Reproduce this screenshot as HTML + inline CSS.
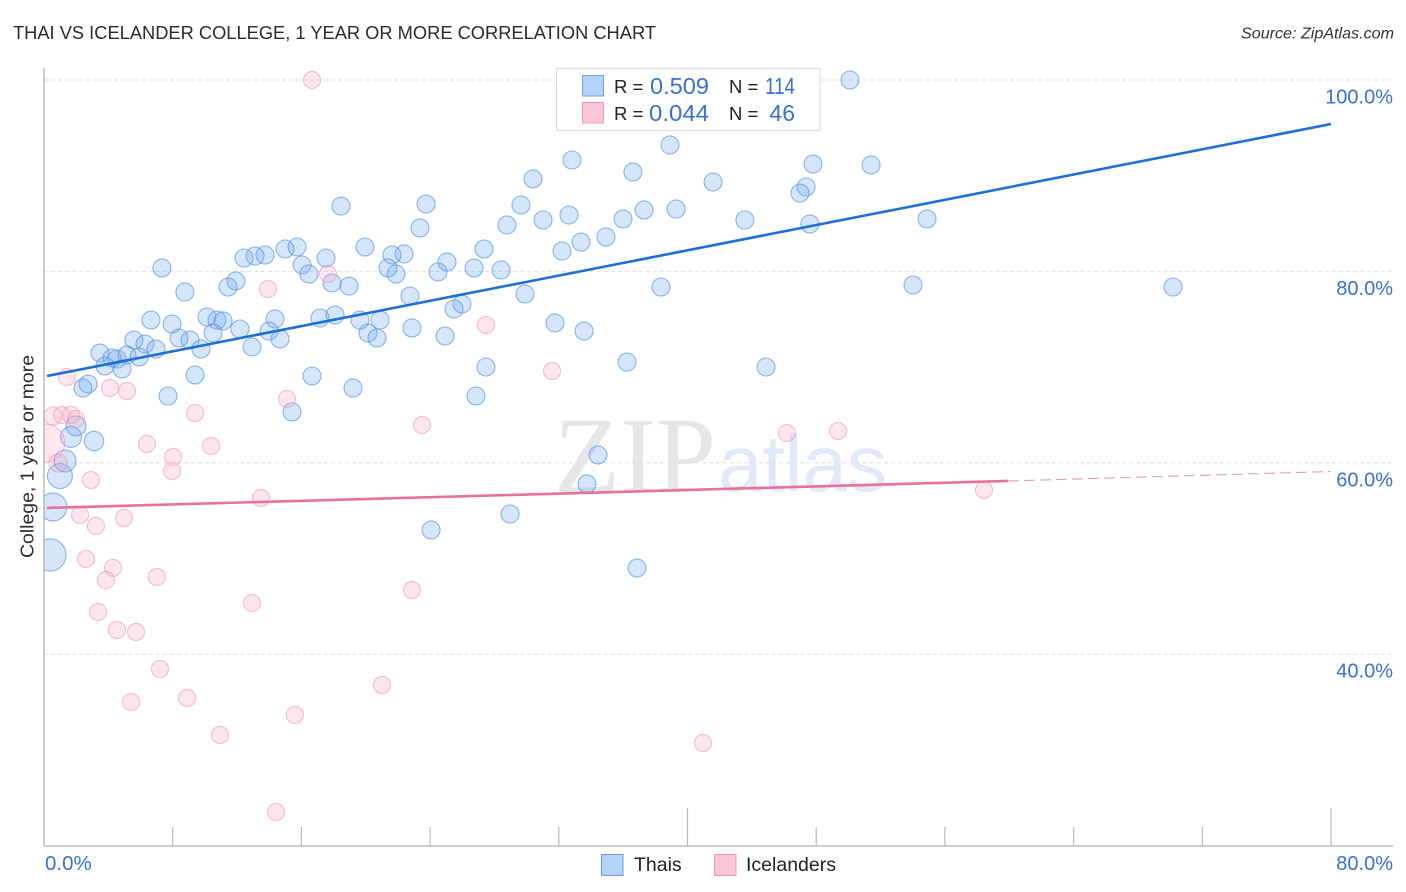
<!DOCTYPE html>
<html lang="en">
<head>
<meta charset="utf-8">
<title>Thai vs Icelander College, 1 Year or More Correlation Chart</title>
<style>
html,body{margin:0;padding:0;background:#fff;}
svg{display:block;font-family:"Liberation Sans",sans-serif;}
</style>
</head>
<body>
<svg id="chart" width="1406" height="892" viewBox="0 0 1406 892" xmlns="http://www.w3.org/2000/svg">
  <defs>
    <clipPath id="plot-clip"><rect x="44" y="60" width="1350" height="786"></rect></clipPath>
  </defs>
  <rect x="0" y="0" width="1406" height="892" fill="#ffffff"></rect>
  <text x="13" y="39" font-size="18.5" fill="#2b2b2b" textLength="643" lengthAdjust="spacingAndGlyphs">THAI VS ICELANDER COLLEGE, 1 YEAR OR MORE CORRELATION CHART</text>
  <text x="1394" y="38.500" font-size="16" font-style="italic" fill="#333333" text-anchor="end" textLength="153" lengthAdjust="spacingAndGlyphs">Source: ZipAtlas.com</text>
  <g>
    <text x="554" y="492" font-family="'Liberation Serif',serif" font-size="108" fill="#e6e6e6">ZIP</text>
    <text x="718" y="491" font-size="80" fill="#e1e9f9">atlas</text>
  </g>
  <g id="grid"></g>
  <g id="marks" clip-path="url(#plot-clip)"></g>
  <g id="axes"></g>
  <text transform="translate(33.500,558) rotate(-90)" x="0" y="0" font-size="18.500" fill="#2b2b2b" textLength="203" lengthAdjust="spacingAndGlyphs">College, 1 year or more</text>

  <g>
    <rect x="556.500" y="68.500" width="263.500" height="62" fill="#ffffff" stroke="#dedede" stroke-width="1.2"></rect>
    <rect x="582.500" y="75.500" width="21" height="20.500" fill="#b5d2f8" stroke="#6f9fdf" stroke-width="1"></rect>
    <text x="614" y="93" font-size="18.500" fill="#222222">R =</text>
    <text x="650" y="94" font-size="23" fill="#3a70d2" textLength="59" lengthAdjust="spacingAndGlyphs">0.509</text>
    <text x="729" y="93" font-size="18.500" fill="#222222">N =</text>
    <text x="765" y="94" font-size="23" fill="#3a70d2" textLength="30" lengthAdjust="spacingAndGlyphs">114</text>
    <rect x="582.500" y="102.500" width="21" height="20.500" fill="#fcc5d8" stroke="#f19ab8" stroke-width="1"></rect>
    <text x="614" y="120" font-size="18.500" fill="#222222">R =</text>
    <text x="649" y="121" font-size="23" fill="#3a70d2" textLength="60" lengthAdjust="spacingAndGlyphs">0.044</text>
    <text x="729" y="120" font-size="18.500" fill="#222222">N =</text>
    <text x="795" y="121" font-size="23" fill="#3a70d2" text-anchor="end">46</text>
  </g>

  <g>
    <rect x="601.500" y="854.500" width="21.500" height="21" fill="#b5d2f8" stroke="#6f9fdf" stroke-width="1"></rect>
    <text x="634" y="871" font-size="19.500" fill="#222222">Thais</text>
    <rect x="714.500" y="854.500" width="21.500" height="21" fill="#fcc5d8" stroke="#f19ab8" stroke-width="1"></rect>
    <text x="746" y="871" font-size="19.500" fill="#222222">Icelanders</text>
  </g>
</svg>
<script>
const thaiX = [50.10,38.91,32.82,47.80,51.41,36.61,30.40,41.59,47.37,46.99,18.46,23.75,29.65,39.29,37.30,32.63,31.02,35.99,43.57,54.89,47.61,28.78,23.37,34.93,33.38,19.95,14.98,15.73,27.35,32.20,22.38,21.63,13.74,13.12,12.43,17.53,25.05,16.04,7.33,21.38,26.73,28.41,21.88,24.49,16.47,11.93,11.44,17.90,18.96,8.76,38.35,54.02,70.18,29.90,22.75,25.98,25.49,10.13,6.65,18.09,17.16,14.36,10.75,11.13,19.64,20.89,7.96,31.76,22.87,12.18,33.57,10.51,13.99,20.14,24.93,20.70,8.39,9.08,5.59,14.67,6.28,12.93,6.96,9.76,3.48,4.23,5.16,4.54,5.91,3.79,4.85,36.24,44.88,27.47,16.66,9.39,2.74,2.42,19.21,7.71,26.85,15.42,1.99,1.68,3.11,34.44,1.31,0.99,33.75,0.56,28.97,24.06,0.37,36.86];
const thaiY = [100.00,93.21,91.64,91.22,91.12,90.39,89.66,89.34,88.82,88.19,86.83,87.04,86.94,86.52,86.42,85.89,85.37,85.48,85.37,85.48,84.95,84.85,84.54,83.60,83.07,82.55,82.34,82.55,82.34,82.13,81.82,81.71,81.71,81.61,81.40,81.40,80.98,80.67,80.36,80.36,80.36,80.15,79.73,79.94,79.73,79.00,78.37,78.79,78.47,77.85,78.37,78.58,78.37,77.64,77.43,76.59,76.07,75.24,74.92,75.44,75.13,75.03,74.92,74.82,74.92,74.92,74.50,74.61,74.09,73.98,73.77,73.56,73.77,73.56,73.25,73.04,73.04,72.83,72.83,72.94,72.41,72.10,71.89,71.89,71.47,70.95,71.27,70.85,71.06,70.12,69.80,70.53,70.01,70.01,69.07,69.18,68.23,67.82,67.82,66.98,66.98,65.31,63.85,62.70,62.28,60.82,60.19,58.62,57.79,55.38,54.65,52.98,50.37,49.01];
const thaiWeight = [1,1,1,1,1,1,1,1,1,1,1,1,1,1,1,1,1,1,1,1,1,1,1,1,1,1,1,1,1,1,1,1,1,1,1,1,1,1,1,1,1,1,1,1,1,1,1,1,1,1,1,1,1,1,1,1,1,1,1,1,1,1,1,1,1,1,1,1,1,1,1,1,1,1,1,1,1,1,1,1,1,1,1,1,1,1,1,1,1,1,1,1,1,1,1,1,1,1,1,1,1,1,1.23,1.36,1.16,1,1.5,1.93,1,2.4,1,1,3.2,1];

const icelanderX = [16.66,17.65,13.92,27.47,31.58,1.43,4.10,5.16,15.10,9.39,0.56,1.12,1.68,1.99,23.50,6.40,10.38,0.12,8.02,0.87,7.96,2.92,13.49,2.24,4.97,3.23,2.61,4.29,3.85,7.02,12.93,22.87,3.36,4.54,5.72,7.21,21.01,8.89,5.41,15.60,10.94,40.96,14.42,46.18,49.36,58.43];
const icelanderY = [100.00,79.73,78.16,74.40,69.59,68.97,67.82,67.50,66.67,65.20,64.89,65.00,65.00,64.58,63.95,61.97,61.76,62.07,60.61,59.98,59.14,58.20,56.32,54.55,54.23,53.40,49.95,49.01,47.76,48.07,45.35,46.71,44.41,42.53,42.32,38.46,36.78,35.43,35.01,33.65,31.56,30.72,23.51,63.11,63.32,57.16];
const icelanderWeight = [0.9,0.9,0.9,0.9,0.9,0.9,0.9,0.9,0.9,0.9,1,0.9,0.9,0.9,0.9,0.9,0.9,4.45,0.9,1,0.9,0.9,0.9,0.9,0.9,0.9,0.9,0.9,0.9,0.9,0.9,0.9,0.9,0.9,0.9,0.9,0.9,0.9,0.9,0.9,0.9,0.9,0.9,0.9,0.9,0.9];

const thaiTrendX = [0.19,80];
const thaiTrendY = [69.07,95.40];
const icelanderTrendX = [0.19,59.92];
const icelanderTrendY = [55.28,58.10];
const icelanderProjectionX = [59.92,80];
const icelanderProjectionY = [58.10,59.09];

const yTicks = [100,80,60,40];
const yTickLabels = ["100.0%","80.0%","60.0%","40.0%"];
const xTicks = [8,16,24,32,40,48,56,64,72,80];
const xMajorTicks = [40,80];
const xTickLabels = ["0.0%","80.0%"];

const NS = "http://www.w3.org/2000/svg";
function xScale(v){ return 44 + v * 16.0875; }
function yScale(v){ return 80 + (100 - v) * 9.57; }
function radius(w){ return 9 * Math.sqrt(w); }
function make(tag, attrs, parent){
  const el = document.createElementNS(NS, tag);
  Object.keys(attrs).forEach(function(k){ el.setAttribute(k, attrs[k]); });
  parent.appendChild(el);
  return el;
}
const grid = document.getElementById("grid");
const marks = document.getElementById("marks");
const axes = document.getElementById("axes");

yTicks.forEach(function(v, i){
  const line = make("line", {x1:44, x2:1393, y1:yScale(v), y2:yScale(v), stroke:"#e0e0e0", "stroke-width":1, "stroke-dasharray":"4 3"}, grid);
  
  
  const label = make("text", {x:1393, y:yScale(v) + 23.5, "font-size":20, fill:"#3a70d2", "text-anchor":"end"}, axes);
  
  
  label.textContent = yTickLabels[i];
});

const yAxis = make("line", {x1:44, x2:44, y1:68, y2:846, stroke:"#b0b0b0", "stroke-width":1.3}, axes);


const xAxis = make("line", {x1:44, x2:1393, y1:846, y2:846, stroke:"#b0b0b0", "stroke-width":1.3}, axes);


xTicks.forEach(function(v){
  const top = xMajorTicks.indexOf(v) >= 0 ? 808 : 827;
  const tick = make("line", {x1:xScale(v), x2:xScale(v), y1:top, y2:846, stroke:"#b8b8b8", "stroke-width":1.2}, axes);
  
  
});
const xLabelLeft = make("text", {x:45, y:870, "font-size":20.5, fill:"#3a70d2"}, axes);


xLabelLeft.textContent = xTickLabels[0];
const xLabelRight = make("text", {x:1393, y:870, "font-size":20, fill:"#3a70d2", "text-anchor":"end"}, axes);


xLabelRight.textContent = xTickLabels[1];

thaiX.forEach(function(v, i){
  const c = make("circle", {cx:xScale(v), cy:yScale(thaiY[i]), r:radius(thaiWeight[i]), fill:"rgba(108,164,238,0.28)", stroke:"rgba(90,148,226,0.68)", "stroke-width":1.1}, marks);
  
  
});
icelanderX.forEach(function(v, i){
  const c = make("circle", {cx:xScale(v), cy:yScale(icelanderY[i]), r:radius(icelanderWeight[i]), fill:"rgba(250,165,195,0.28)", stroke:"rgba(240,140,175,0.55)", "stroke-width":1.1}, marks);
  
  
});

const thaiTrend = make("line", {x1:xScale(thaiTrendX[0]), y1:yScale(thaiTrendY[0]), x2:xScale(thaiTrendX[1]), y2:yScale(thaiTrendY[1]), stroke:"#1f6fd8", "stroke-width":2.6}, marks);


const iceTrend = make("line", {x1:xScale(icelanderTrendX[0]), y1:yScale(icelanderTrendY[0]), x2:xScale(icelanderTrendX[1]), y2:yScale(icelanderTrendY[1]), stroke:"#e8709b", "stroke-width":2.6}, marks);


const iceProjection = make("line", {x1:xScale(icelanderProjectionX[0]), y1:yScale(icelanderProjectionY[0]), x2:xScale(icelanderProjectionX[1]), y2:yScale(icelanderProjectionY[1]), stroke:"#eb9ab8", "stroke-width":1.1, "stroke-dasharray":"11 5"}, marks);


</script>
</body>
</html>
